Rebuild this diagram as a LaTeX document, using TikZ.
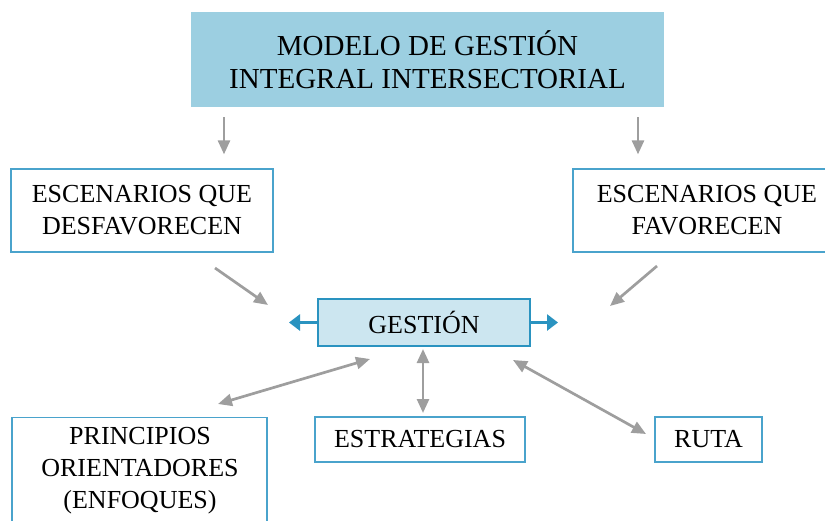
\documentclass[tikz,border=0pt]{standalone}
\usepackage{fontspec}
\setmainfont{Liberation Serif}
\usetikzlibrary{arrows.meta,calc}
\definecolor{topfill}{HTML}{9CCFE1}
\definecolor{gfill}{HTML}{CCE6F0}
\definecolor{gline}{HTML}{2A93C0}
\definecolor{bline}{HTML}{4AA3CC}
\definecolor{arrgray}{HTML}{9E9E9E}
\tikzset{
  box/.style={draw=bline, line width=1.3pt, fill=white, align=center, inner sep=0pt,
    font=\fontsize{26}{32}\selectfont},
  topbox/.style={fill=topfill, align=center, inner sep=0pt, font=\fontsize{29}{33}\selectfont},
  gbox/.style={draw=gline, fill=gfill, line width=2.8pt, align=center, inner sep=0pt,
    font=\fontsize{26}{32}\selectfont},
  garr/.style={draw=arrgray, line width=2.7pt, -{Triangle[length=14pt,width=12pt]}},
  gdarr/.style={draw=arrgray, line width=2.7pt, {Triangle[length=14pt,width=12pt]}-{Triangle[length=14pt,width=12pt]}},
  barr/.style={draw=gline, line width=3pt, -{Triangle[length=11pt,width=16pt]}}
}
\begin{document}
\begin{tikzpicture}[x=1pt,y=-1pt]
\useasboundingbox (0,0) rectangle (825,520);
\clip (0,0) rectangle (825,520);
% nodes
\node[topbox, minimum width=473pt, minimum height=95pt] (top) at (427.5,59.5)
  {MODELO DE GESTIÓN\\INTEGRAL INTERSECTORIAL};
\node[box, minimum width=262pt, minimum height=83pt] (desf) at (142,210.5)
  {ESCENARIOS QUE\\DESFAVORECEN};
\node[box, minimum width=268pt, minimum height=83pt] (fav) at (707,210.5)
  {ESCENARIOS QUE\\FAVORECEN};
\node[gbox, minimum width=212pt, minimum height=47pt] (gest) at (424,322.5) {GESTIÓN};
\node[box, minimum width=255pt, minimum height=130pt, anchor=north] (prin) at (139.5,417) {};
\node[align=center, font=\fontsize{26}{32}\selectfont, inner sep=0pt] (printxt) at (140,471)
  {PRINCIPIOS\\ORIENTADORES\\(ENFOQUES)};
\node[box, minimum width=210pt, minimum height=45pt] (estr) at (420,439.5) {ESTRATEGIAS};
\node[box, minimum width=107pt, minimum height=45pt] (ruta) at (708.5,439.5) {RUTA};
% arrow end coordinates
\coordinate (a1) at (224,0);
\coordinate (a2) at (638,0);
\coordinate (d1) at (215,268);
\coordinate (d2) at (268,305);
\coordinate (f1) at (657,266);
\coordinate (f2) at (610,306);
\coordinate (p1) at (218,404);
\coordinate (p2) at (370,359);
\coordinate (e1) at (423,349);
\coordinate (e2) at (423,413);
\coordinate (r1) at (513,360);
\coordinate (r2) at (646,434);
\coordinate (bl) at (289,322.5);
\coordinate (br) at (558,322.5);
% connectors
\draw[garr, shorten <=10pt, shorten >=14pt] (top.south -| a1) -- (desf.north -| a1);
\draw[garr, shorten <=10pt, shorten >=14pt] (top.south -| a2) -- (fav.north -| a2);
\draw[garr] (d1) -- (d2);
\draw[garr] (f1) -- (f2);
\draw[gdarr] (p1) -- (p2);
\draw[gdarr] (e1) -- (e2);
\draw[gdarr] (r1) -- (r2);
\draw[barr] (gest.west) -- (bl);
\draw[barr] (gest.east) -- (br);
\end{tikzpicture}
\end{document}
